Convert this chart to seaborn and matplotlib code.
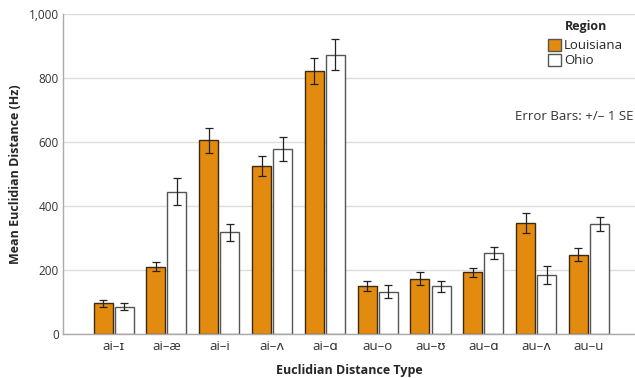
import pandas as pd
import seaborn as sns
import matplotlib.pyplot as plt

# values (Hz)
categories = ["ai–ɪ", "ai–æ", "ai–i", "ai–ʌ", "ai–ɑ", "au–o", "au–ʊ", "au–ɑ", "au–ʌ", "au–u"]
regions = ["Louisiana", "Ohio"]
louisiana_mean = [96, 211, 606, 526, 822, 150, 174, 194, 347, 249]
ohio_mean = [85, 446, 318, 579, 874, 133, 150, 254, 185, 345]
louisiana_se = [11, 14, 39, 31, 41, 16, 20, 14, 32, 20]
ohio_se = [11, 41, 27, 37, 48, 20, 17, 20, 29, 21]
y_ticks = [0, 200, 400, 600, 800, 1000]

df = pd.DataFrame({
    "Type": categories * 2,
    "Region": ["Louisiana"] * len(categories) + ["Ohio"] * len(categories),
    "Mean": louisiana_mean + ohio_mean,
})
se_lookup = {"Louisiana": louisiana_se, "Ohio": ohio_se}

sns.set_style("white")
plt.rcParams["font.family"] = ["Open Sans", "DejaVu Sans"]

fig = plt.figure(figsize=(6.35, 3.78), dpi=100)
ax = fig.add_axes([0.099, 0.116, 0.901, 0.846])

palette = {"Louisiana": "#E38B0F", "Ohio": "#FFFFFF"}
sns.barplot(data=df, x="Type", y="Mean", hue="Region", order=categories,
            hue_order=regions, palette=palette, errorbar=None, gap=0.1,
            width=0.8, saturation=1, ax=ax, zorder=2)

# bar outlines + error bars from the drawn patches
for region, container in zip(regions, ax.containers):
    edge = "#3b2a12" if region == "Louisiana" else "#555555"
    for i, bar in enumerate(container):
        bar.set_edgecolor(edge)
        bar.set_linewidth(1.0)
        xc = bar.get_x() + bar.get_width() / 2
        ax.errorbar(xc, bar.get_height(), yerr=se_lookup[region][i],
                    color="#222222", lw=0.9, capsize=3, capthick=0.9, zorder=3)

ax.set_ylim(0, 1000)
ax.set_xlim(-0.96, 9.87)
ax.set_yticks(y_ticks)
ax.set_yticklabels([f"{v:,}" for v in y_ticks])
ax.yaxis.grid(True, color="#DDDDDD", lw=1.0, zorder=0)
ax.set_axisbelow(True)
for s in ["top", "right"]:
    ax.spines[s].set_visible(False)
for s in ["left", "bottom"]:
    ax.spines[s].set_color("#AAAAAA")
    ax.spines[s].set_linewidth(1.0)
ax.tick_params(axis="y", length=0, labelsize=8.5, colors="#333333", pad=3)
ax.tick_params(axis="x", length=0, labelsize=9.5, colors="#333333", pad=4)

ax.set_xlabel("Euclidian Distance Type", fontsize=9, fontweight="bold", labelpad=8)
ax.set_ylabel("Mean Euclidian Distance (Hz)", fontsize=9, fontweight="bold", labelpad=5)

leg = ax.legend(title="Region", loc="upper right", bbox_to_anchor=(1.0, 1.018),
                frameon=False, fontsize=9.5, title_fontsize=9, handlelength=1.0,
                handleheight=1.0, handletextpad=0.2, labelspacing=0.12)
leg.get_title().set_fontweight("bold")
leg._legend_box.sep = 4
for h in leg.legend_handles:
    h.set_edgecolor("#555555")

ax.text(0.998, 0.68, "Error Bars: +/– 1 SE", transform=ax.transAxes,
        ha="right", va="center", fontsize=9.5, color="#333333")

fig.savefig("out.png", dpi=100)
